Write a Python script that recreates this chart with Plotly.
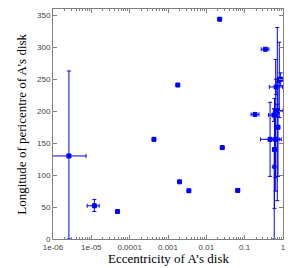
import plotly.graph_objects as go

# eccentricity, longitude of pericentre and asymmetric errors
ecc = [2.6e-6, 1.2e-5, 4.8e-5, 4.3e-4, 1.8e-3, 0.0223, 2.0e-3, 3.5e-3, 0.026, 0.066,
       0.346, 0.186,
       0.71, 0.80, 0.645, 0.87, 0.66, 0.71, 0.58, 0.46, 0.63, 0.59, 0.74, 0.60]
ecc_minus = [1.65e-6, 0.42e-5, 0.0, 0.0, 0.0, 0.0, 0.0, 0.0, 0.0, 0.006,
             0.076, 0.039,
             0.05, 0.04, 0.05, 0.11, 0.22, 0.15, 0.16, 0.20, 0.13, 0.03, 0.03, 0.03]
ecc_plus = [4.7e-6, 0.4e-5, 0.0, 0.0, 0.0, 0.0, 0.0, 0.0, 0.0, 0.006,
            0.084, 0.051,
            0.05, 0.08, 0.08, 0.13, 0.32, 0.29, 0.10, 0.34, 0.27, 0.03, 0.03, 0.03]
omega = [130, 52, 43, 156, 241, 344, 89.5, 75.5, 143, 76,
         297, 195,
         200, 250, 195, 250, 238, 201, 194, 156, 156, 113, 175, 140]
omega_minus = [130, 9, 0, 0, 0, 0, 0, 0, 0, 0,
               0, 0,
               140, 60, 120, 10, 12, 10, 10, 58, 60, 113, 77, 92]
omega_plus = [133, 10, 0, 0, 0, 0, 0, 0, 0, 0,
              0, 0,
              131, 58, 86, 10, 12, 10, 10, 58, 40, 27, 70, 80]
symbols = ["square"] * 21 + ["circle-open", "square", "square"]

x_tickvals = [1e-6, 1e-5, 1e-4, 1e-3, 1e-2, 1e-1, 1]
x_ticktext = ["1e-06", "1e-05", "0.0001", "0.001", "0.01", "0.1", "1"]
x_minorvals = [m * 10.0 ** e for e in range(-6, 0) for m in range(2, 10)]
y_tickvals = [0, 50, 100, 150, 200, 250, 300, 350]

blue = "#0000ff"
fig = go.Figure()
fig.add_trace(go.Scatter(
    x=ecc, y=omega, mode="markers",
    marker=dict(symbol=symbols, size=4, color=blue, line=dict(color=blue, width=1)),
    error_x=dict(type="data", symmetric=False, array=ecc_plus, arrayminus=ecc_minus,
                 color=blue, thickness=1, width=2),
    error_y=dict(type="data", symmetric=False, array=omega_plus, arrayminus=omega_minus,
                 color=blue, thickness=1, width=2),
    showlegend=False, cliponaxis=True,
))

axis_common = dict(showgrid=False, zeroline=False, showline=True, linecolor="#808080",
                   linewidth=1, mirror="allticks", ticks="inside", tickcolor="#808080",
                   ticklen=4, automargin=False,
                   tickfont=dict(family="Liberation Sans", size=8, color="#444444"))
fig.update_xaxes(type="log", range=[-6, 0], tickvals=x_tickvals, ticktext=x_ticktext,
                 minor=dict(ticks="inside", ticklen=2, tickcolor="#808080",
                            tickvals=x_minorvals, showgrid=False),
                 **axis_common)
fig.update_yaxes(range=[0, 360], tickvals=y_tickvals, **axis_common)
fig.update_layout(width=299, height=268, margin=dict(l=53, r=16, t=9, b=29),
                  paper_bgcolor="white", plot_bgcolor="white")
fig.add_annotation(text="Eccentricity of A’s disk", xref="paper", yref="paper",
                   x=0.5, y=-0.083, xanchor="center", yanchor="middle", showarrow=False,
                   font=dict(family="Liberation Serif", size=13, color="black"))
fig.add_annotation(text="Longitude of pericentre of A’s disk", xref="paper", yref="paper",
                   x=-0.14, y=0.5, xanchor="center", yanchor="middle", showarrow=False,
                   textangle=-90,
                   font=dict(family="Liberation Serif", size=13, color="black"))
fig.write_html("out.html", config={"displayModeBar": False},
               post_script="document.body.style.margin='0';")
